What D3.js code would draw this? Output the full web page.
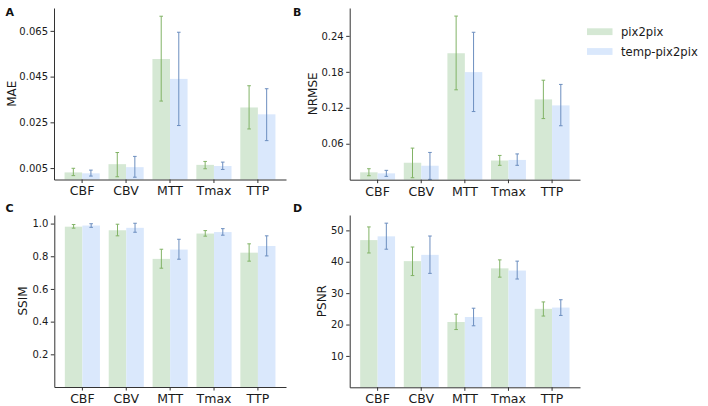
<!DOCTYPE html>
<html><head><meta charset="utf-8">
<script src="https://cdn.jsdelivr.net/npm/d3@7"></script>
<style>body{margin:0;background:#fff}svg{display:block;font-family:"DejaVu Sans",sans-serif}</style>
</head><body><svg id="c" width="708" height="406"></svg>
<script>
const categories = ["CBF","CBV","MTT","Tmax","TTP"];
const series = ["pix2pix","temp-pix2pix"];
// MAE
const maeP2P = [0.0031,0.0067,0.0527,0.0064,0.0315];
const maeP2PLo = [0.0017,0.0012,0.0343,0.0047,0.0221];
const maeP2PHi = [0.0049,0.0118,0.0714,0.0079,0.0410];
const maeTmp = [0.0027,0.0054,0.0440,0.0059,0.0285];
const maeTmpLo = [0.0015,0.0010,0.0236,0.0044,0.0170];
const maeTmpHi = [0.0041,0.0101,0.0644,0.0076,0.0397];
// NRMSE
const nrmseP2P = [0.0123,0.0283,0.211,0.032,0.134];
const nrmseP2PLo = [0.0066,0.0033,0.150,0.024,0.102];
const nrmseP2PHi = [0.0183,0.0527,0.273,0.0405,0.166];
const nrmseTmp = [0.0106,0.0233,0.1795,0.033,0.124];
const nrmseTmpLo = [0.0056,0.0005,0.1137,0.024,0.090];
const nrmseTmpHi = [0.0156,0.0455,0.246,0.043,0.159];
// SSIM
const ssimP2P = [0.981,0.959,0.784,0.939,0.822];
const ssimP2PLo = [0.972,0.925,0.727,0.923,0.770];
const ssimP2PHi = [0.994,0.996,0.843,0.957,0.876];
const ssimTmp = [0.988,0.974,0.841,0.948,0.863];
const ssimTmpLo = [0.977,0.947,0.782,0.929,0.802];
const ssimTmpHi = [0.999,1.002,0.904,0.969,0.925];
// PSNR
const psnrP2P = [46.9,40.2,20.8,37.9,25.0];
const psnrP2PLo = [42.8,35.6,18.4,35.1,22.7];
const psnrP2PHi = [51.1,44.7,23.3,40.6,27.2];
const psnrTmp = [48.1,42.2,22.4,37.2,25.4];
const psnrTmpLo = [44.0,36.3,19.6,34.5,22.9];
const psnrTmpHi = [52.3,48.2,25.2,40.2,27.9];
// tick labels
const maeTicks = [0.005,0.025,0.045,0.065];
const nrmseTicks = [0.06,0.12,0.18,0.24];
const ssimTicks = [0.2,0.4,0.6,0.8,1.0];
const psnrTicks = [10,20,30,40,50];

const fills = ["#d5e8d4","#dae8fc"];
const strokes = ["#82b366","#6c8ebf"];
const svg = d3.select("#c");

function panel(o){
  const g = svg.append("g");
  const x = d3.scaleBand().domain(categories).range([o.x0,o.x1]).paddingInner(0.2).paddingOuter(0.24);
  const xs = d3.scaleBand().domain(series).range([0,x.bandwidth()]);
  const y = d3.scaleLinear().domain([0,o.ymax]).range([o.y0,o.y1]);
  const rows = [];
  categories.forEach((c,i)=>{
    rows.push({c,s:series[0],v:o.a[i],lo:o.aLo[i],hi:o.aHi[i],k:0});
    rows.push({c,s:series[1],v:o.b[i],lo:o.bLo[i],hi:o.bHi[i],k:1});
  });
  g.selectAll("rect.bar").data(rows).join("rect")
    .attr("x",d=>x(d.c)+xs(d.s)).attr("width",xs.bandwidth())
    .attr("y",d=>y(d.v)).attr("height",d=>y(0)-y(d.v))
    .attr("fill",d=>fills[d.k]);
  const eb = g.selectAll("g.eb").data(rows).join("g").attr("stroke",d=>strokes[d.k]).attr("stroke-width",1);
  const cx = d=>x(d.c)+xs(d.s)+xs.bandwidth()/2;
  eb.append("line").attr("x1",cx).attr("x2",cx).attr("y1",d=>y(d.lo)).attr("y2",d=>y(d.hi));
  eb.append("line").attr("x1",d=>cx(d)-1.8).attr("x2",d=>cx(d)+1.8).attr("y1",d=>y(d.lo)).attr("y2",d=>y(d.lo));
  eb.append("line").attr("x1",d=>cx(d)-1.8).attr("x2",d=>cx(d)+1.8).attr("y1",d=>y(d.hi)).attr("y2",d=>y(d.hi));
  const xa = g.append("g").attr("transform",`translate(0,${o.y0})`)
    .call(d3.axisBottom(x).tickSize(3.5).tickPadding(3.5).tickSizeOuter(0));
  xa.selectAll("text").attr("font-size","12.5px").attr("fill","#1a1a1a").attr("font-family","DejaVu Sans");
  const ya = g.append("g").attr("transform",`translate(${o.x0},0)`)
    .call(d3.axisLeft(y).tickValues(o.ticks).tickFormat(o.fmt).tickSize(3.5).tickPadding(2.5).tickSizeOuter(0));
  ya.selectAll("text").attr("font-size","10px").attr("fill","#1a1a1a").attr("font-family","DejaVu Sans");
  [xa,ya].forEach(a=>{a.select(".domain").attr("stroke","#333").attr("stroke-width",1);a.selectAll(".tick line").attr("stroke","#333");});
  g.append("text").attr("transform",`translate(${o.lx},${(o.y0+o.y1)/2}) rotate(-90)`)
    .attr("text-anchor","middle").attr("dominant-baseline","central")
    .attr("font-size","12px").attr("fill","#1a1a1a").text(o.label);
  g.append("text").attr("x",o.px).attr("y",o.py).attr("font-size","11px").attr("font-weight","bold").attr("fill","#111").text(o.letter);
}

panel({x0:54,x1:286,y0:179.5,y1:8,ymax:0.075,a:maeP2P,aLo:maeP2PLo,aHi:maeP2PHi,b:maeTmp,bLo:maeTmpLo,bHi:maeTmpHi,ticks:maeTicks,fmt:d3.format(".3f"),label:"MAE",lx:12,letter:"A",px:5.5,py:15.5});
panel({x0:349.7,x1:580,y0:179.7,y1:8,ymax:0.2865,a:nrmseP2P,aLo:nrmseP2PLo,aHi:nrmseP2PHi,b:nrmseTmp,bLo:nrmseTmpLo,bHi:nrmseTmpHi,ticks:nrmseTicks,fmt:d3.format(".2f"),label:"NRMSE",lx:313,letter:"B",px:293,py:15.5});
panel({x0:54.3,x1:286,y0:387,y1:215,ymax:1.0525,a:ssimP2P,aLo:ssimP2PLo,aHi:ssimP2PHi,b:ssimTmp,bLo:ssimTmpLo,bHi:ssimTmpHi,ticks:ssimTicks,fmt:d3.format(".1f"),label:"SSIM",lx:23,letter:"C",px:5.5,py:212});
panel({x0:349.7,x1:580,y0:387.3,y1:215,ymax:54.9,a:psnrP2P,aLo:psnrP2PLo,aHi:psnrP2PHi,b:psnrTmp,bLo:psnrTmpLo,bHi:psnrTmpHi,ticks:psnrTicks,fmt:d3.format("d"),label:"PSNR",lx:321.7,letter:"D",px:293,py:212});

const lg = svg.append("g");
series.forEach((s,i)=>{
  lg.append("rect").attr("x",587).attr("y",28.3+i*19.8).attr("width",25.5).attr("height",6.8).attr("fill",fills[i]);
  lg.append("text").attr("x",621).attr("y",31.7+i*19.8).attr("dominant-baseline","central")
    .attr("font-size","11.6px").attr("fill","#1a1a1a").text(s);
});
</script></body></html>
